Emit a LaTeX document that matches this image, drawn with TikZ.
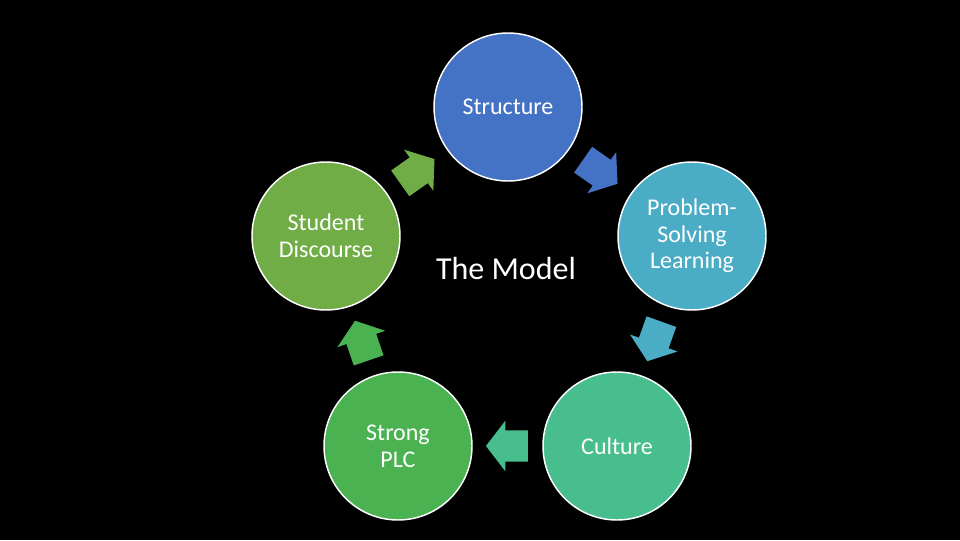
\documentclass[tikz,border=0pt]{standalone}
\usepackage{fontspec}
\setmainfont{Carlito}
\usetikzlibrary{shapes.arrows,positioning}

\definecolor{strblue}{HTML}{4472C4}
\definecolor{pslteal}{HTML}{4BACC6}
\definecolor{culgreen}{HTML}{48BE8E}
\definecolor{plcgreen}{HTML}{4AB250}
\definecolor{sdgreen}{HTML}{70AD47}

\begin{document}
\begin{tikzpicture}[
    x=0.75pt, y=0.75pt,
    every node/.style={font=\fontsize{18}{20}\selectfont, text=white},
    stage/.style={circle, draw=white, line width=1.1pt, minimum size=111pt,
                  inner sep=0pt, align=center},
    cyc/.style={single arrow, draw=none, minimum height=31.5pt, minimum width=0pt,
                single arrow head extend=7.1pt, single arrow tip angle=105,
                inner xsep=0pt, inner ysep=11.6pt, sloped, allow upside down,
                pos=0.475},
  ]
  \fill[black] (0,0) rectangle (960,540);
  \useasboundingbox (0,0) rectangle (960,540);
  \node[stage, fill=strblue] (str) at (508,433) {Structure};
  \node[stage, fill=pslteal] (psl) at (692,304) {Problem-\\Solving\\Learning};
  \node[stage, fill=culgreen] (cul) at (617,94) {Culture};
  \node[stage, fill=plcgreen] (plc) at (398,94) {Strong\\PLC};
  \node[stage, fill=sdgreen] (sd) at (326,304) {Student\\Discourse};
  \node[font=\fontsize{24}{28}\selectfont] (model) at (506,272) {The Model};
  \path (sd.center) -- node[cyc, fill=sdgreen] (a1) {} (str.center);
  \path (str.center) -- node[cyc, fill=strblue] (a2) {} (psl.center);
  \path (psl.center) -- node[cyc, fill=pslteal] (a3) {} (cul.center);
  \path (cul.center) -- node[cyc, fill=culgreen] (a4) {} (plc.center);
  \path (plc.center) -- node[cyc, fill=plcgreen] (a5) {} (sd.center);
\end{tikzpicture}
\end{document}
